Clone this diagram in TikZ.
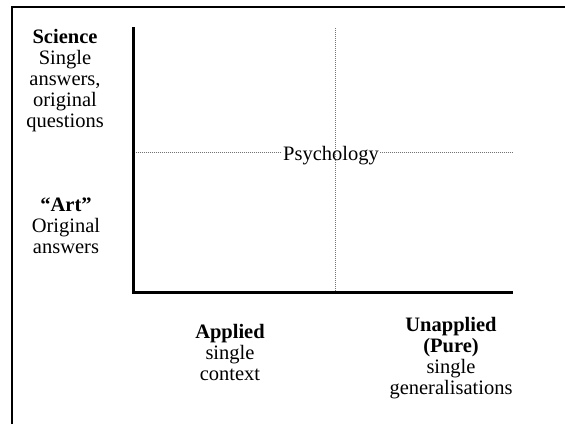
\documentclass[tikz,border=0pt]{standalone}
\usepackage{fontspec}
\setmainfont{Liberation Serif}
\usetikzlibrary{positioning}

\begin{document}
\begin{tikzpicture}[x=1pt, y=-1pt,
		frame/.style={line width=2.4pt},
		axis/.style={line width=3pt},
		guide/.style={dash pattern=on 1pt off 1pt, line width=0.8pt, black!55},
		lbl/.style={align=center, inner sep=0pt, anchor=base, font=\fontsize{20.5}{21}\selectfont},
	]
		\useasboundingbox (0,0) rectangle (565,424) ;
		
		\coordinate (fb) at (12.2,424) ;
		\coordinate (fc) at (12.2,6.8) ;
		\coordinate (fr) at (565,6.8) ;
		\draw[frame] (fb) -- (fc) -- (fr) ;
		
		\coordinate (top) at (133.5,27) ;
		\coordinate (O) at (133.5,292.3) ;
		\coordinate (right) at (513,292.3) ;
		
		\coordinate (vt) at (335,28) ;
		\coordinate (vb) at (335,292) ;
		\coordinate (hl) at (133.5,152.7) ;
		\coordinate (hr) at (513,152.7) ;
		
		\draw[guide] (hl) -- (hr) ;
		\node[lbl, fill=white, inner xsep=1pt] (psy) at (331,160) {Psychology} ;
		\draw[guide] (vt) -- (vb) ;
		\draw[axis] (top) -- (O) -- (right) ;
		
		\node[lbl] (sci) at (65,127) 	{\textbf{Science}\\Single\\answers,\\original\\questions} ;
		\node[lbl] (art) at (66,253) 	{\textbf{“Art”}\\Original\\answers} ;
		\node[lbl] (app) at (230,380) 	{\textbf{Applied}\\single\\context} ;
		\node[lbl] (pure) at (451,394) 	{\textbf{Unapplied}\\\textbf{(Pure)}\\single\\generalisations} ;
\end{tikzpicture}
\end{document}
